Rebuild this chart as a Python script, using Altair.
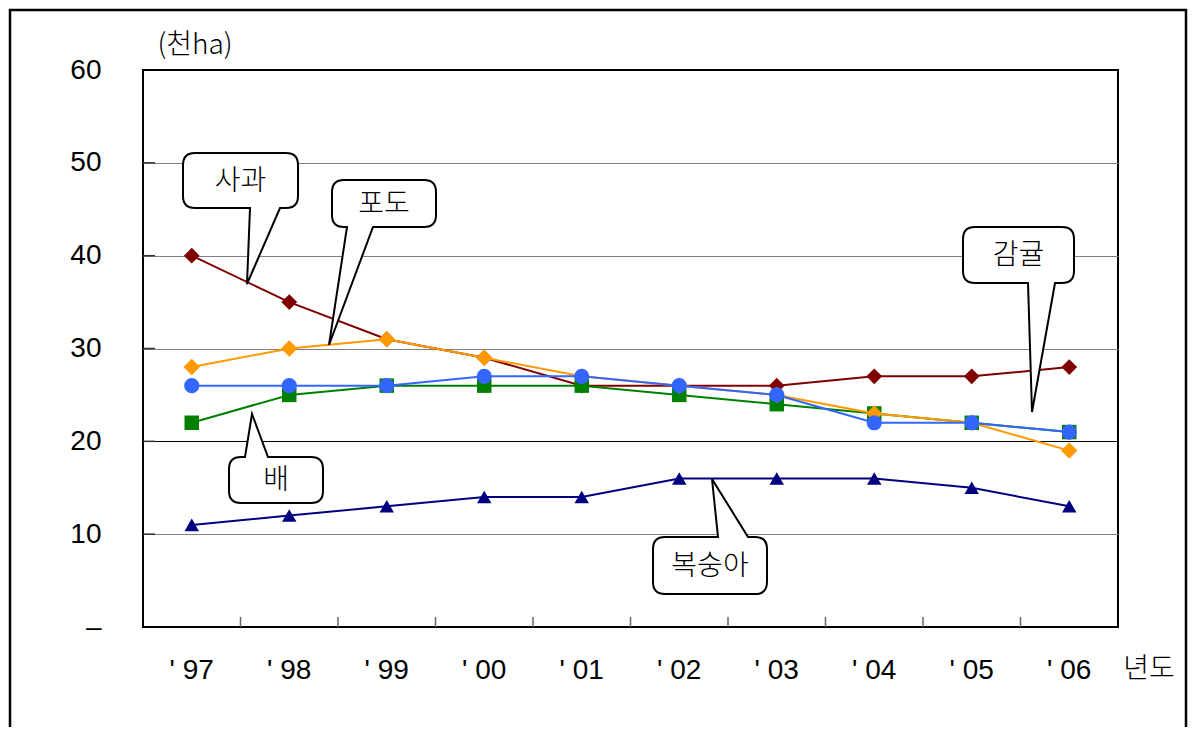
import altair as alt
import pandas as pd

# ---------------- data ----------------
years = ["'97", "'98", "'99", "'00", "'01", "'02", "'03", "'04", "'05", "'06"]
apple = [40, 35, 31, 29, 26, 26, 26, 27, 27, 28]      # 사과
grape = [28, 30, 31, 29, 27, 26, 25, 23, 22, 19]      # 포도
pear = [22, 25, 26, 26, 26, 25, 24, 23, 22, 21]       # 배
citrus = [26, 26, 26, 27, 27, 26, 25, 22, 22, 21]     # 감귤
peach = [11, 12, 13, 14, 14, 16, 16, 16, 15, 13]      # 복숭아
y_ticks = [0, 10, 20, 30, 40, 50, 60]
unit_label = "(천ha)"
x_title = "년도"

# ---------------- layout ----------------
W, H = 975, 557
OX, OY = 143, 70  # plot origin in page pixels
NUM_FONT = "Liberation Sans"
KFONT = "Noto Sans CJK KR"

xscale = alt.Scale(type="band", domain=years, paddingInner=0, paddingOuter=0)
xaxis = alt.Axis(title=None, labelAngle=0, labelFontSize=28, labelFont=NUM_FONT,
                 labelColor="black", labelPadding=43, labelBaseline="middle",
                 labelExpr="replace(datum.label, \"'\", \"' \")",
                 ticks=False, tickSize=0, domain=False, grid=False)
yscale = alt.Scale(domain=[0, 60], nice=False, zero=True)
yaxis = alt.Axis(title=None, values=y_ticks,
                 labelExpr="datum.value == 0 ? '–' : datum.label",
                 labelFontSize=28, labelFont=NUM_FONT, labelColor="black",
                 labelPadding=42, ticks=False, tickSize=0, domain=False,
                 grid=True, gridWidth=1,
                 gridColor={"condition": {"test": "datum.value === 20 || datum.value === 0 || datum.value === 60",
                                          "value": "#000000"},
                            "value": "#808080"})


def X(band_pos=0.5):
    return alt.X("year:N", sort=years, scale=xscale, axis=xaxis, bandPosition=band_pos)


def Y():
    return alt.Y("value:Q", scale=yscale, axis=yaxis)


layers = []

# inward ticks on x axis (band boundaries)
xt = pd.DataFrame({"year": years[1:]})
layers.append(alt.Chart(xt).mark_rule(color="#666666", strokeWidth=1.5).encode(
    x=X(0), y=alt.value(H - 10), y2=alt.value(H)))

# inward ticks on y axis
yt = pd.DataFrame({"value": y_ticks[1:-1]})
layers.append(alt.Chart(yt).mark_rule(color="#333333", strokeWidth=1.5).encode(
    y=Y(), x=alt.value(0), x2=alt.value(12)))

series = [
    (apple, "#800000", "diamond", 250),
    (pear, "#008000", "square", 210),
    (grape, "#FF9900", "diamond", 270),
    (citrus, "#3366FF", "circle", 230),
    (peach, "#000080", "triangle-up", 210),
]
for vals, col, shp, sz in series:
    df = pd.DataFrame({"year": years, "value": vals})
    base = alt.Chart(df)
    layers.append(base.mark_line(color=col, strokeWidth=2).encode(x=X(), y=Y()))
    layers.append(base.mark_point(shape=shp, filled=True, size=sz, color=col,
                                  opacity=1, strokeWidth=0).encode(x=X(), y=Y()))


# ---------------- callouts ----------------
def callout_path(x0, y0, x1, y1, side, b1, b2, tx, ty, r=12):
    cx = (x0 + x1) / 2
    cy = (y0 + y1) / 2
    L, R, T, B = x0 - cx, x1 - cx, y0 - cy, y1 - cy
    b1, b2, tx, ty = b1 - cx, b2 - cx, tx - cx, ty - cy
    p = [f"M{L + r},{T}"]
    if side == "top":
        p += [f"L{b1},{T}", f"L{tx},{ty}", f"L{b2},{T}"]
    p += [f"L{R - r},{T}", f"Q{R},{T} {R},{T + r}", f"L{R},{B - r}", f"Q{R},{B} {R - r},{B}"]
    if side == "bottom":
        p += [f"L{b2},{B}", f"L{tx},{ty}", f"L{b1},{B}"]
    p += [f"L{L + r},{B}", f"Q{L},{B} {L},{B - r}", f"L{L},{T + r}", f"Q{L},{T} {L + r},{T}", "Z"]
    return " ".join(p), cx, cy


callouts = [
    ("사과", (183, 153, 298, 208), "bottom", 250, 280, 247, 284),
    ("포도", (332, 180, 436, 227), "bottom", 347, 373, 329, 345),
    ("배", (229, 457, 323, 503), "top", 245, 268, 252, 414),
    ("감귤", (963, 227, 1074, 283), "bottom", 1028, 1055, 1032, 412),
    ("복숭아", (653, 537, 767, 594), "top", 718, 748, 712, 479),
]
for label, (x0, y0, x1, y1), side, b1, b2, tx, ty in callouts:
    path, cx, cy = callout_path(x0, y0, x1, y1, side, b1, b2, tx, ty)
    d = pd.DataFrame({"label": [label]})
    layers.append(alt.Chart(d).mark_point(shape=path, size=4, filled=True, fill="white",
                                          stroke="black", strokeWidth=2, opacity=1).encode(
        x=alt.value(cx - OX), y=alt.value(cy - OY)))
    layers.append(alt.Chart(d).mark_text(font=KFONT, fontSize=28, fontWeight=300, color="black",
                                         align="center", baseline="middle").encode(
        x=alt.value(cx - OX), y=alt.value(cy - OY + 1), text="label:N"))

# unit and axis title
td = pd.DataFrame({"t": [unit_label]})
layers.append(alt.Chart(td).mark_text(font=KFONT, fontSize=28, fontWeight=300, color="black",
                                      align="center", baseline="middle").encode(
    x=alt.value(195 - OX), y=alt.value(46 - OY), text="t:N"))
td2 = pd.DataFrame({"t": [x_title]})
layers.append(alt.Chart(td2).mark_text(font=KFONT, fontSize=28, fontWeight=300, color="black",
                                       align="center", baseline="middle").encode(
    x=alt.value(1149 - OX), y=alt.value(670 - OY), text="t:N"))

# outer frame
fd = pd.DataFrame({"f": [1]})
layers.append(alt.Chart(fd).mark_rect(fillOpacity=0, stroke="black", strokeWidth=2.5).encode(
    x=alt.value(10 - OX), x2=alt.value(1186 - OX), y=alt.value(10 - OY), y2=alt.value(760 - OY)))

chart = alt.layer(*layers).properties(
    width=W, height=H,
    padding={"left": OX - 8, "top": OY - 8, "right": 70, "bottom": 100},
    autosize=alt.AutoSizeParams(type="none"),
    background="white",
).configure_view(stroke="black", strokeWidth=2)

chart.save("out.html", embed_options={"renderer": "svg", "actions": False})
